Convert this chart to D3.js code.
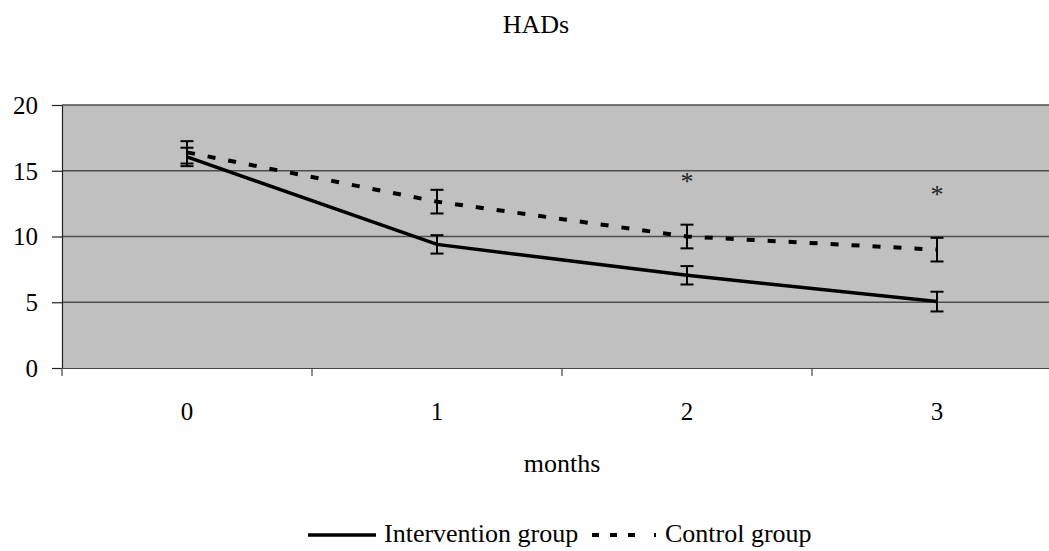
<!DOCTYPE html>
<html>
<head>
<meta charset="utf-8">
<script src="https://cdn.jsdelivr.net/npm/d3@7"></script>
<style>
  body { margin: 0; background: #fff; }
</style>
</head>
<body>
<div class="chart"></div>
<script>
// data
const months = ['0', '1', '2', '3'];
const intervention = [16.05, 9.4, 7.05, 5.05];
const interventionErr = [0.7, 0.7, 0.7, 0.75];
const control = [16.4, 12.65, 10.0, 9.0];
const controlErr = [0.85, 0.9, 0.9, 0.9];
const significant = [false, false, true, true];
const yTicks = [0, 5, 10, 15, 20];

const FONT = '"Liberation Serif", "Times New Roman", "DejaVu Serif", serif';

const svg_width = 1049;
const svg_height = 551;
const plot = {left: 62, top: 105, right: 1062, bottom: 368};

const svg = d3.select('.chart').append('svg')
    .attr('width', svg_width).attr('height', svg_height);

const xScale = d3.scaleBand().domain(months).range([plot.left, plot.right]).padding(0);
const yScale = d3.scaleLinear().domain([0, 20]).range([plot.bottom, plot.top]);
const xc = i => xScale(months[i]) + xScale.bandwidth() / 2;

// plot background
svg.append('rect')
    .attr('x', plot.left).attr('y', plot.top)
    .attr('width', plot.right - plot.left).attr('height', plot.bottom - plot.top)
    .style('fill', '#c0c0c0');

// grid lines
svg.append('g').selectAll('line').data(yTicks.filter(d => d > 0)).enter()
    .append('line')
    .attr('x1', plot.left).attr('x2', plot.right)
    .attr('y1', d => yScale(d)).attr('y2', d => yScale(d))
    .style('stroke', '#4d4d4d').style('stroke-width', 1.3);

// y axis
const yAxis = d3.axisLeft(yScale).tickValues(yTicks).tickSizeInner(10).tickSizeOuter(0).tickPadding(14);
const yAxisDraw = svg.append('g').attr('transform', `translate(${plot.left},0)`).call(yAxis);
yAxisDraw.select('.domain').style('stroke', '#222').style('stroke-width', 1.2);
yAxisDraw.selectAll('.tick line').style('stroke', '#222').style('stroke-width', 1.2);
yAxisDraw.selectAll('text').style('font-family', FONT).style('font-size', '25px')
    .style('fill', '#000').attr('dy', '0.33em');

// x axis: labels at centres, tick marks between categories
const xAxis = d3.axisBottom(xScale).tickSize(0).tickPadding(0);
const xAxisDraw = svg.append('g').attr('transform', `translate(0,${plot.bottom})`).call(xAxis);
xAxisDraw.select('.domain').style('stroke', '#444').style('stroke-width', 1.2);
xAxisDraw.selectAll('text').style('font-family', FONT).style('font-size', '25px')
    .style('fill', '#000').attr('y', 52).attr('dy', 0);
svg.append('g').selectAll('line').data(months).enter()
    .append('line')
    .attr('x1', d => xScale(d)).attr('x2', d => xScale(d))
    .attr('y1', plot.bottom).attr('y2', plot.bottom + 8)
    .style('stroke', '#444').style('stroke-width', 1.2);

// lines
const line = d3.line().x((d, i) => xc(i)).y(d => yScale(d));
svg.append('path').datum(control)
    .attr('d', line)
    .style('fill', 'none').style('stroke', '#000')
    .style('stroke-width', 4).style('stroke-dasharray', '8,13');
svg.append('path').datum(intervention)
    .attr('d', line)
    .style('fill', 'none').style('stroke', '#000')
    .style('stroke-width', 3.5);

// error bars
function errorBars(values, errs) {
    const g = svg.append('g');
    values.forEach((v, i) => {
        const x = xc(i);
        const y0 = yScale(v + errs[i]);
        const y1 = yScale(v - errs[i]);
        g.append('line').attr('x1', x).attr('x2', x).attr('y1', y0).attr('y2', y1);
        g.append('line').attr('x1', x - 6.5).attr('x2', x + 6.5).attr('y1', y0).attr('y2', y0);
        g.append('line').attr('x1', x - 6.5).attr('x2', x + 6.5).attr('y1', y1).attr('y2', y1);
    });
    g.selectAll('line').style('stroke', '#000').style('stroke-width', 2);
}
errorBars(control, controlErr);
errorBars(intervention, interventionErr);

// significance marks
svg.append('g').selectAll('text').data(months.filter((d, i) => significant[i])).enter()
    .append('text')
    .attr('x', d => xScale(d) + xScale.bandwidth() / 2)
    .attr('y', d => yScale(control[months.indexOf(d)] + controlErr[months.indexOf(d)]) - 35)
    .attr('text-anchor', 'middle')
    .style('font-family', FONT).style('font-size', '26px').style('fill', '#222')
    .text('*');

// title and axis title
svg.append('text').attr('x', 536).attr('y', 33).attr('text-anchor', 'middle')
    .style('font-family', FONT).style('font-size', '26px').text('HADs');
svg.append('text').attr('x', (plot.left + plot.right) / 2).attr('y', 472).attr('text-anchor', 'middle')
    .style('font-family', FONT).style('font-size', '26px').text('months');

// legend
const legend = svg.append('g').attr('transform', 'translate(0,535)');
legend.append('line').attr('x1', 308).attr('x2', 376).attr('y1', 0).attr('y2', 0)
    .style('stroke', '#000').style('stroke-width', 3.5);
legend.append('text').attr('x', 384).attr('y', 7)
    .style('font-family', FONT).style('font-size', '26px').text('Intervention group');
legend.append('line').attr('x1', 592).attr('x2', 656).attr('y1', 0).attr('y2', 0)
    .style('stroke', '#000').style('stroke-width', 4).style('stroke-dasharray', '7,11,7,11,7,19,2');
legend.append('text').attr('x', 665).attr('y', 7)
    .style('font-family', FONT).style('font-size', '26px').text('Control group');
</script>
</body>
</html>
